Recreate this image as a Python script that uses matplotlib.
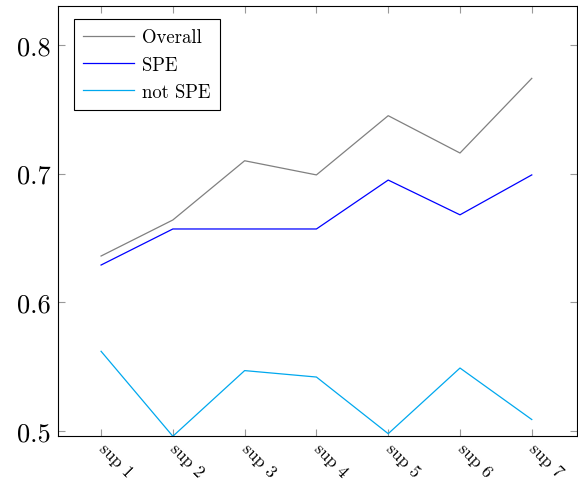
import matplotlib
matplotlib.use("Agg")
import matplotlib.pyplot as plt

categories = ["sup 1", "sup 2", "sup 3", "sup 4", "sup 5", "sup 6", "sup 7"]
overall = [0.636, 0.664, 0.710, 0.699, 0.745, 0.716, 0.774]
spe = [0.629, 0.657, 0.657, 0.657, 0.695, 0.668, 0.699]
not_spe = [0.562, 0.496, 0.547, 0.542, 0.498, 0.549, 0.509]
yticks = [0.5, 0.6, 0.7, 0.8]

plt.rcParams['font.family'] = ['cmr10', 'DejaVu Serif']
plt.rcParams['axes.formatter.use_mathtext'] = True

fig = plt.figure(figsize=(5.78, 4.85), dpi=100)
ax = fig.add_axes([58/578, 1-437/485, (577-58)/578, (437-7)/485])

x = list(range(1, len(categories)+1))
ax.plot(x, overall, color='#808080', lw=0.9, label='Overall')
ax.plot(x, spe, color='#0000ff', lw=0.9, label='SPE')
ax.plot(x, not_spe, color='#00a8ee', lw=0.9, label='not SPE')

ax.set_xlim(0.4, 7.63)
ax.set_ylim(0.4962, 0.8302)
ax.set_xticks(x)
ax.set_xticklabels(categories, rotation=-45, ha='left', va='center', fontsize=12.5,
                   rotation_mode='anchor')
ax.set_yticks(yticks)
ax.set_yticklabels([f"{v:.1f}" for v in yticks], fontsize=19)
ax.tick_params(axis='both', direction='in', length=5, width=0.8, color='#999999',
               top=True, right=True)
ax.tick_params(axis='x', pad=7)
ax.tick_params(axis='y', pad=5)
for s in ax.spines.values():
    s.set_linewidth(0.8)
    s.set_color('black')

leg = ax.legend(loc='upper left', bbox_to_anchor=(16/519, 1-13/430), borderaxespad=0,
                fontsize=13.5, fancybox=False, framealpha=1,
                edgecolor='black', handlelength=2.7,
                handletextpad=0.45, borderpad=0.5, labelspacing=0.5)
leg.get_frame().set_linewidth(0.8)

fig.savefig("out.png", dpi=100)
